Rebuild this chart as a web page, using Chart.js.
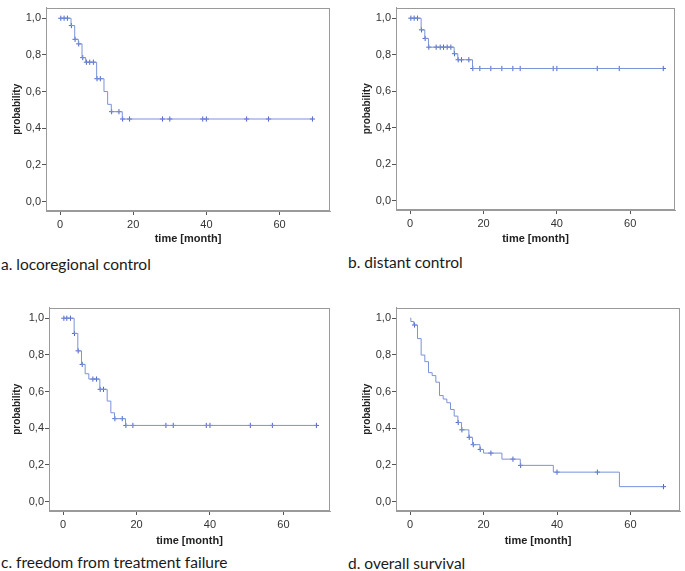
<!DOCTYPE html>
<html>
<head>
<meta charset="utf-8">
<script src="https://cdn.jsdelivr.net/npm/chart.js@4.4.0/dist/chart.umd.min.js"></script>
<style>
  body { margin: 0; background: #fff; }
  #wrap { position: relative; width: 685px; height: 571px; overflow: hidden; }
  canvas { position: absolute; }
  .cap { position: absolute; font-family: Lato, "Open Sans", sans-serif; font-size: 15.5px; color: #1a1a1a; white-space: nowrap; }
</style>
</head>
<body>
<div id="wrap">
  <canvas id="ca" width="335" height="250" style="left:0;top:0"></canvas>
  <canvas id="cb" width="330" height="249" style="left:350px;top:0"></canvas>
  <canvas id="cc" width="335" height="250" style="left:0;top:300px"></canvas>
  <canvas id="cd" width="335" height="250" style="left:350px;top:300px"></canvas>
  <div class="cap" style="left:1px;top:255px">a. locoregional control</div>
  <div class="cap" style="left:348px;top:253px">b. distant control</div>
  <div class="cap" style="left:1px;top:553px">c. freedom from treatment failure</div>
  <div class="cap" style="left:348px;top:554px">d. overall survival</div>
</div>
<script>
// Kaplan-Meier steps: time of event and survival after it
const aTime = [0, 3, 4, 5, 6, 7, 10, 12, 13, 14, 17, 69];
const aSurv = [1, 0.96, 0.885, 0.86, 0.785, 0.76, 0.67, 0.60, 0.53, 0.49, 0.45, 0.45];
const aCens = [0.2, 1.1, 2, 3.1, 4.1, 5.1, 6.2, 7.2, 8.1, 9.1, 10.1, 11, 14.1, 16.1, 17.1, 19, 28, 30, 39, 40, 51, 57, 69];

const bTime = [0, 3, 4, 5, 12, 13, 17, 69];
const bSurv = [1, 0.936, 0.889, 0.841, 0.805, 0.772, 0.724, 0.724];
const bCens = [0.2, 1.1, 2, 3.1, 4.1, 5.1, 7.1, 8.2, 9.1, 10.1, 11.1, 12.1, 13.1, 14, 16, 17.1, 19, 22, 25, 28, 30, 39, 40, 51, 57, 69];

const cTime = [0, 3, 4, 5, 6, 7, 10, 12, 13, 14, 17, 69];
const cSurv = [1, 0.917, 0.822, 0.748, 0.697, 0.668, 0.612, 0.548, 0.484, 0.452, 0.415, 0.415];
const cCens = [0.2, 1, 2, 3.1, 4.1, 5.2, 8.1, 9.1, 10.1, 11, 14.1, 16.1, 17.1, 19, 28, 30, 39, 40, 51, 57, 69];

const dTime = [0, 0.2, 1, 2, 3, 4, 5, 6, 7, 8, 9, 10, 11, 12, 13, 14, 16, 17, 19, 20, 25, 30, 39, 57, 69];
const dSurv = [1, 0.982, 0.963, 0.889, 0.799, 0.763, 0.703, 0.687, 0.651, 0.578, 0.559, 0.539, 0.502, 0.466, 0.431, 0.391, 0.35, 0.31, 0.284, 0.264, 0.231, 0.197, 0.16, 0.081, 0.081];
const dCens = [1.2, 13.1, 14.1, 16.1, 17.2, 19.1, 22, 28, 30.1, 40, 51, 69];

const xTicks = [0, 20, 40, 60];
const yTicks = [0, 0.2, 0.4, 0.6, 0.8, 1.0];

const lineColor = '#7b93d8';
const markColor = '#4d66c4';
const frameColor = '#9a9a9a';
const textColor = '#333';

// value of the step curve at time t
function survAt(times, surv, t) {
  let s = surv[0];
  for (let i = 0; i < times.length; i++) {
    if (times[i] <= t) s = surv[i];
  }
  return s;
}

const framePlugin = {
  id: 'frame',
  afterDatasetsDraw(chart) {
    const { ctx, chartArea: a } = chart;
    ctx.save();
    ctx.strokeStyle = frameColor;
    ctx.lineWidth = 1;
    ctx.strokeRect(Math.round(a.left) + 0.5, Math.round(a.top) + 0.5,
      Math.round(a.right - a.left) - 1, Math.round(a.bottom - a.top) - 1);
    ctx.restore();
  }
};

function makeChart(id, times, surv, cens, opt) {
  const steps = times.map((t, i) => ({ x: t, y: surv[i] }));
  const marks = cens.map(t => ({ x: t, y: survAt(times, surv, t) }));
  return new Chart(document.getElementById(id), {
    type: 'line',
    data: {
      datasets: [
        {
          data: steps,
          stepped: true,
          borderColor: lineColor,
          borderWidth: 1,
          pointRadius: 0,
          fill: false
        },
        {
          type: 'scatter',
          data: marks,
          pointStyle: 'cross',
          pointRadius: 2.6,
          borderColor: markColor,
          borderWidth: 1,
          showLine: false
        }
      ]
    },
    options: {
      responsive: false,
      animation: false,
      devicePixelRatio: 1,
      layout: { padding: { top: 1, right: 1, left: 0, bottom: 0 } },
      plugins: { legend: { display: false }, tooltip: { enabled: false } },
      scales: {
        x: {
          type: 'linear',
          min: -3.85,
          max: opt.xMax,
          afterBuildTicks: s => { s.ticks = xTicks.map(v => ({ value: v })); },
          afterFit: s => { s.height = opt.xH; },
          grid: { drawOnChartArea: false, drawTicks: true, tickLength: 4, color: '#555' },
          border: { color: frameColor },
          ticks: { color: textColor, padding: 3, font: { family: 'Liberation Sans, Arial', size: 11 } },
          title: {
            display: true, text: 'time [month]', color: '#222',
            padding: { top: 0, bottom: opt.xTitlePad },
            font: { family: 'Liberation Sans, Arial', size: 11, weight: 'bold' }
          }
        },
        y: {
          min: -0.052,
          max: 1.058,
          afterBuildTicks: s => { s.ticks = yTicks.map(v => ({ value: v })); },
          afterFit: s => { s.width = opt.yW; },
          grid: { drawOnChartArea: false, drawTicks: true, tickLength: 4, color: '#555' },
          border: { color: frameColor },
          ticks: {
            color: textColor, padding: 1,
            font: { family: 'Liberation Sans, Arial', size: 11 },
            callback: v => v.toFixed(1).replace('.', ',')
          },
          title: {
            display: true, text: 'probability', color: '#222',
            padding: { top: opt.yTitlePad, bottom: 0 },
            font: { family: 'Liberation Sans, Arial', size: 10, weight: 'bold' }
          }
        }
      }
    },
    plugins: [framePlugin]
  });
}

makeChart('ca', aTime, aSurv, aCens, { xMax: 73.8, yW: 46, xH: 39, xTitlePad: 4, yTitlePad: 11 });
makeChart('cb', bTime, bSurv, bCens, { xMax: 72.2, yW: 46, xH: 39, xTitlePad: 3, yTitlePad: 11 });
makeChart('cc', cTime, cSurv, cCens, { xMax: 72.7, yW: 49, xH: 39, xTitlePad: 2, yTitlePad: 11 });
makeChart('cd', dTime, dSurv, dCens, { xMax: 73.5, yW: 46, xH: 39, xTitlePad: 2, yTitlePad: 11 });
</script>
</body>
</html>
